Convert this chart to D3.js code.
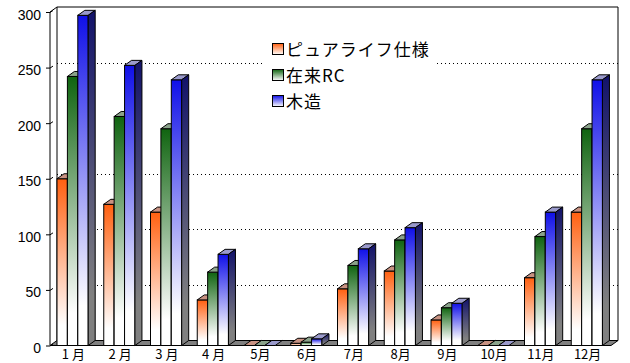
<!doctype html>
<html>
<head>
<meta charset="utf-8">
<style>
	body{ margin:0; background:#fff; }
	#chart .ylab{ font-family:"Liberation Sans", Arial, sans-serif; font-size:14px; }
	#chart .xlab{ font-family:"Noto Sans CJK JP", sans-serif; font-size:13px; }
	#chart .leg{ font-family:"Noto Sans CJK JP", sans-serif; font-size:17px; letter-spacing:1px; }
</style>
</head>
<body>
<svg id=chart width=630 height=363></svg>
<script src="https://d3js.org/d3.v7.min.js"></script>
<script>
var months = ["1 月","2 月","3 月","4 月","5月","6月","7月","8月","9月","10月","11月","12月"];
var seriesNames = ["ピュアライフ仕様","在来RC","木造"];
var pureLife = [150,127,120,41,0,2,51,67,23,0,61,120];
var zairaiRC = [242,206,195,66,0,3,72,95,34,0,98,195];
var mokuzo   = [297,252,239,82,0,6,87,106,38,0,120,239];
var yTicks = [0,50,100,150,200,250,300];
var gridTicks = [50,100,150,250];

var seriesValues = [pureLife, zairaiRC, mokuzo];
var colors = [
	{front:"#ff6010", top:"#c89282", side:"#6a3a20"},
	{front:"#106410", top:"#8aa28a", side:"#1a401a"},
	{front:"#1010e8", top:"#9a9acc", side:"#12126a"}
];

var svg = d3.select("#chart"),
	DX = 7, DY = 5;

var y = d3.scaleLinear().domain([0, 300]).range([345.5, 12]);
var x = d3.scaleBand().domain(months).range([50, 611]);
var xs = d3.scaleBand().domain(seriesNames).range([7, 7 + 31.2]);

// gradients
var defs = svg.append("defs");
colors.forEach(function(c, i){
	var g = defs.append("linearGradient").attr("id", "fg" + i)
		.attr("x1", 0).attr("y1", 0).attr("x2", 0).attr("y2", 1);
	g.append("stop").attr("offset", 0).attr("stop-color", c.front);
	g.append("stop").attr("offset", 0.88).attr("stop-color", "#fff");
	g.append("stop").attr("offset", 1).attr("stop-color", "#fff");
	var s = defs.append("linearGradient").attr("id", "sg" + i)
		.attr("x1", 0).attr("y1", 0).attr("x2", 0).attr("y2", 1);
	s.append("stop").attr("offset", 0).attr("stop-color", c.side);
	s.append("stop").attr("offset", 0.85).attr("stop-color", "#808080");
	s.append("stop").attr("offset", 1).attr("stop-color", "#808080");
	var l = defs.append("linearGradient").attr("id", "lg" + i)
		.attr("x1", 0).attr("y1", 0).attr("x2", 0).attr("y2", 1);
	l.append("stop").attr("offset", 0).attr("stop-color", c.front);
	l.append("stop").attr("offset", 1).attr("stop-color", "#fff");
});

var x0 = x.range()[0], x1 = x.range()[1];

// back wall
svg.append("path")
	.attr("d", "M" + (x0 + DX) + "," + (y(0) - DY) + "V" + (y(300) - DY) + "H" + (x1 + DX) + "V" + (y(0) - DY))
	.attr("fill", "none").attr("stroke", "#000");

// grid lines (dotted on back wall)
svg.selectAll(".grid").data(gridTicks).enter().append("line")
	.attr("x1", x0 + DX).attr("x2", x1 + DX)
	.attr("y1", function(d){ return Math.round(y(d) - DY) + 0.5; })
	.attr("y2", function(d){ return Math.round(y(d) - DY) + 0.5; })
	.attr("stroke", "#000").attr("stroke-dasharray", "1,3");

// floor
svg.append("path")
	.attr("d", "M" + x0 + "," + y(0) + "L" + x1 + "," + y(0) + "L" + (x1 + DX) + "," + (y(0) - DY) + "L" + (x0 + DX) + "," + (y(0) - DY) + "Z")
	.attr("fill", "#808080").attr("stroke", "#000");

// front axis
svg.append("path")
	.attr("d", "M" + x0 + "," + y(0) + "V" + y(300) + "L" + (x0 + DX) + "," + (y(300) - DY))
	.attr("fill", "none").attr("stroke", "#000");

var yAxis = svg.append("g").attr("transform", "translate(" + x0 + ",0)")
	.call(d3.axisLeft(y).tickValues(yTicks).tickSize(4).tickPadding(5));
yAxis.select(".domain").remove();
yAxis.selectAll("text").attr("class", "ylab").attr("font-family", null).attr("font-size", null).attr("dy", "0.5em");
yAxis.selectAll(".tick").append("line")
	.attr("x1", 0).attr("y1", 0).attr("x2", 3).attr("y2", -2).attr("stroke", "#000");

// bars
var bars = [];
months.forEach(function(m, i){
	seriesNames.forEach(function(s, j){
		bars.push({m: m, s: s, j: j, v: seriesValues[j][i]});
	});
});

var bar = svg.selectAll(".bar").data(bars).enter().append("g").attr("class", "bar");
var bw = xs.bandwidth();
function bx(d){ return x(d.m) + xs(d.s); }

bar.filter(function(d){ return d.v > 0; }).append("rect")
	.attr("x", bx).attr("y", function(d){ return y(d.v); })
	.attr("width", bw).attr("height", function(d){ return y(0) - y(d.v); })
	.attr("fill", function(d){ return "url(#fg" + d.j + ")"; })
	.attr("stroke", "#000");
bar.append("path")
	.attr("d", function(d){
		var a = bx(d), t = y(d.v);
		return "M" + a + "," + t + "L" + (a + DX) + "," + (t - DY) + "H" + (a + bw + DX) + "L" + (a + bw) + "," + t + "Z";
	})
	.attr("fill", function(d){ return colors[d.j].top; })
	.attr("stroke", "#000");
bar.filter(function(d){ return d.v > 0; }).append("path")
	.attr("d", function(d){
		var a = bx(d) + bw, t = y(d.v), b = y(0);
		return "M" + a + "," + t + "L" + (a + DX) + "," + (t - DY) + "V" + (b - DY) + "L" + a + "," + b + "Z";
	})
	.attr("fill", function(d){ return "url(#sg" + d.j + ")"; })
	.attr("stroke", "#000");

// x labels
svg.selectAll(".xlab").data(months).enter().append("text")
	.attr("class", "xlab")
	.attr("x", function(d){ return x(d) + x.bandwidth() / 2; })
	.attr("y", 359)
	.attr("text-anchor", "middle")
	.attr("xml:space", "preserve")
	.style("white-space", "pre")
	.text(function(d){ return d; });

// legend
var legend = svg.append("g").attr("transform", "translate(263,36)");
legend.append("rect").attr("width", 174).attr("height", 76).attr("fill", "#fff");
var item = legend.selectAll(".item").data(seriesNames).enter().append("g")
	.attr("transform", function(d, i){ return "translate(0," + (i * 26) + ")"; });
item.append("rect").attr("x", 9.5).attr("y", 7.5).attr("width", 11).attr("height", 11)
	.attr("fill", function(d, i){ return "url(#lg" + i + ")"; })
	.attr("stroke", "#000");
item.append("text").attr("class", "leg").attr("x", 23).attr("y", 20)
	.text(function(d){ return d; });
</script>
</body>
</html>
